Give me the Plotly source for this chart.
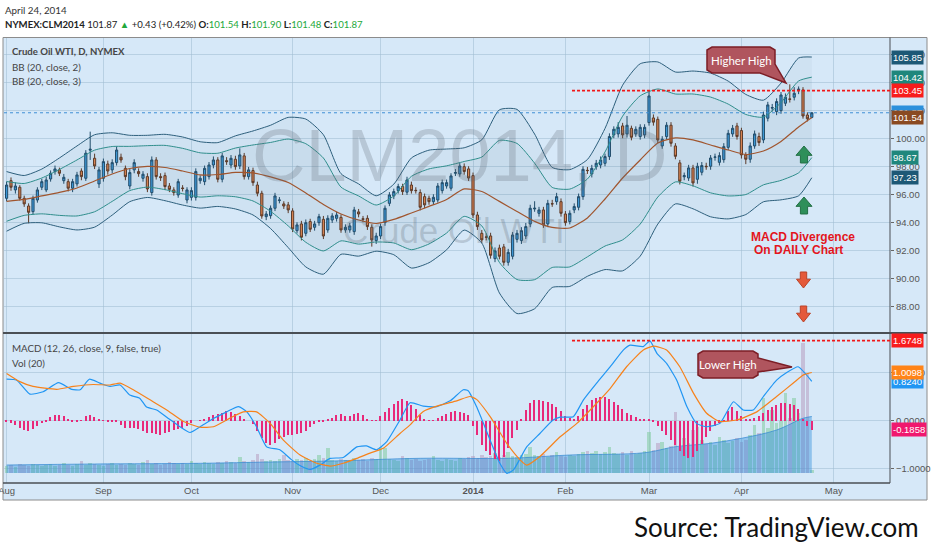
import numpy as np
import pandas as pd
import plotly.graph_objects as go

# ---- values (daily bars, CLM2014) ----
holidays = ["2013-09-02", "2013-11-28", "2013-12-25", "2014-01-01",
            "2014-01-20", "2014-02-17", "2014-04-18"]
month_names = ["Aug", "Sep", "Oct", "Nov", "Dec", "<b>2014</b>", "Feb", "Mar", "Apr", "May"]

opens = [
    95.76, 97.02, 96.36, 96.55, 95.76, 95.21, 94.81, 95.64, 96.55, 96.36,
    97.14, 97.67, 97.79, 97.02, 96.95, 96.48, 96.79, 97.71, 97.19, 99.20,
    98.62, 96.79, 97.19, 98.21, 97.79, 98.31, 98.69, 97.90, 96.64, 97.79,
    97.67, 97.19, 97.31, 96.17, 98.50, 97.31, 97.38, 96.64, 96.36, 96.00,
    96.50, 95.64, 95.83, 95.83, 97.02, 96.95, 97.31, 98.14, 98.50, 97.12,
    98.45, 98.14, 98.55, 98.07, 98.79, 97.31, 97.74, 96.71, 96.12, 94.45,
    94.52, 95.05, 95.60, 95.36, 95.29, 94.86, 93.45, 93.93, 93.26, 94.10,
    93.69, 94.02, 94.26, 93.50, 94.21, 94.33, 94.40, 93.50, 93.50, 93.38,
    94.79, 94.30, 94.33, 93.69, 92.74, 93.07, 94.02, 95.40, 95.93, 96.31,
    96.60, 96.20, 96.71, 96.33, 96.17, 95.88, 95.76, 95.52, 95.64, 96.31,
    96.64, 96.48, 97.55, 97.50, 98.02, 97.86, 97.38, 94.57, 93.26, 93.00,
    93.07, 91.45, 92.21, 92.29, 91.19, 91.62, 92.83, 92.74, 93.07, 93.93,
    95.00, 94.69, 94.93, 93.93, 95.38, 95.52, 95.52, 94.64, 94.10, 94.93,
    95.12, 95.88, 97.76, 97.50, 98.02, 98.14, 98.26, 98.74, 100.29, 100.36,
    100.93, 100.36, 100.76, 100.36, 100.17, 100.29, 101.17, 101.50, 101.40, 99.50,
    100.17, 100.98, 99.50, 98.29, 97.30, 97.21, 97.93, 97.12, 97.62, 98.05,
    98.05, 98.69, 98.33, 98.52, 99.40, 100.36, 100.93, 100.60, 98.86, 98.55,
    99.50, 100.17, 99.93, 101.48, 102.20, 101.95, 102.02, 102.55, 102.86, 102.98,
    103.50, 103.50, 101.71, 101.54,
]
highs = [
    96.95, 97.25, 96.90, 96.70, 95.95, 95.40, 95.95, 96.55, 97.15, 97.30,
    97.75, 98.10, 97.95, 97.50, 97.15, 97.15, 97.65, 97.90, 99.20, 100.52,
    98.95, 98.00, 98.60, 98.45, 98.55, 99.45, 98.95, 98.10, 97.85, 98.55,
    97.90, 97.70, 97.55, 98.75, 98.70, 97.55, 97.60, 96.85, 96.55, 97.15,
    96.70, 96.55, 96.55, 97.90, 97.40, 98.10, 98.35, 98.75, 98.70, 99.00,
    98.70, 98.85, 98.80, 99.33, 99.00, 98.00, 97.95, 96.95, 96.30, 94.85,
    95.25, 96.15, 95.85, 95.55, 95.50, 95.05, 94.05, 94.15, 94.25, 94.30,
    94.15, 94.65, 94.50, 94.55, 94.70, 94.80, 94.60, 93.90, 94.00, 95.15,
    95.00, 94.50, 94.55, 93.90, 93.30, 93.95, 95.25, 96.20, 96.45, 96.80,
    96.80, 97.30, 96.95, 96.55, 96.40, 96.10, 95.95, 96.05, 96.85, 97.10,
    97.10, 97.55, 97.85, 98.30, 98.25, 98.05, 97.60, 94.80, 93.50, 93.25,
    93.30, 92.25, 92.45, 92.50, 92.15, 93.35, 93.50, 93.70, 94.00, 95.30,
    95.55, 95.15, 95.15, 95.65, 95.65, 96.15, 95.75, 94.85, 94.90, 95.40,
    96.10, 98.05, 98.00, 98.15, 98.50, 98.75, 98.95, 100.40, 100.90, 101.20,
    101.15, 101.64, 100.95, 100.90, 101.05, 101.05, 103.45, 101.75, 101.60, 100.20,
    101.20, 101.20, 99.70, 98.50, 97.60, 98.15, 98.15, 98.30, 98.35, 98.30,
    98.85, 98.95, 99.05, 99.70, 100.65, 101.00, 101.15, 100.80, 99.05, 99.75,
    100.60, 100.45, 101.95, 102.65, 102.50, 102.90, 103.35, 103.25, 103.90, 103.70,
    103.75, 103.70, 101.90, 101.90,
]
lows = [
    95.55, 96.30, 96.10, 95.60, 95.15, 93.98, 94.60, 95.45, 96.35, 96.20,
    96.95, 97.45, 97.35, 96.80, 96.25, 96.20, 96.60, 97.05, 97.00, 98.50,
    97.85, 96.50, 96.95, 97.45, 97.55, 98.10, 98.30, 97.05, 96.40, 97.55,
    97.30, 96.95, 96.20, 95.95, 97.10, 97.00, 96.35, 96.20, 95.95, 95.80,
    96.25, 95.40, 95.60, 95.60, 96.80, 96.70, 97.10, 97.90, 96.90, 96.90,
    98.15, 97.90, 97.80, 97.85, 97.10, 97.10, 96.65, 95.90, 94.30, 94.20,
    94.30, 94.85, 95.40, 95.00, 94.70, 93.35, 93.25, 92.75, 93.05, 93.35,
    93.45, 93.80, 92.85, 93.30, 94.00, 94.10, 93.30, 93.30, 93.30, 93.15,
    94.40, 94.05, 93.50, 92.31, 92.50, 92.85, 93.80, 95.20, 95.70, 96.10,
    96.00, 96.00, 96.10, 96.10, 94.90, 95.05, 95.30, 95.30, 95.45, 96.10,
    96.45, 96.30, 97.35, 97.30, 97.45, 97.00, 94.35, 93.50, 92.55, 92.75,
    91.45, 91.20, 91.40, 90.95, 90.95, 91.40, 92.60, 92.50, 92.85, 93.70,
    94.80, 94.45, 93.65, 93.70, 95.15, 95.30, 94.45, 93.80, 93.90, 94.70,
    94.90, 95.65, 97.50, 97.25, 97.80, 97.90, 98.05, 98.50, 100.05, 100.10,
    100.05, 100.10, 99.90, 100.15, 99.95, 100.05, 100.95, 100.95, 99.70, 99.30,
    99.95, 99.45, 98.55, 96.75, 97.05, 97.00, 96.60, 96.80, 97.40, 97.80,
    97.80, 98.45, 98.10, 98.30, 99.20, 100.15, 99.95, 98.60, 98.20, 98.30,
    99.30, 99.50, 99.70, 101.25, 101.95, 101.70, 101.80, 102.35, 102.60, 102.75,
    103.20, 101.45, 101.25, 101.48,
]
closes = [
    96.71, 96.55, 96.64, 95.76, 95.36, 94.76, 95.76, 96.36, 96.95, 97.07,
    97.55, 97.86, 97.55, 97.26, 96.48, 96.95, 97.43, 97.31, 98.98, 99.26,
    98.07, 97.79, 98.38, 97.71, 98.31, 99.21, 98.50, 97.31, 97.60, 98.31,
    97.52, 97.48, 96.43, 98.50, 97.31, 97.24, 96.60, 96.40, 96.17, 96.95,
    96.46, 96.36, 96.31, 97.67, 97.19, 97.90, 98.14, 98.50, 97.12, 98.79,
    98.38, 98.62, 98.02, 98.86, 97.31, 97.79, 96.88, 96.12, 94.50, 94.64,
    95.05, 95.93, 95.64, 95.21, 94.93, 93.57, 93.86, 92.98, 94.02, 93.55,
    93.93, 94.45, 93.07, 94.33, 94.50, 94.57, 93.50, 93.69, 93.79, 94.93,
    94.64, 94.26, 93.74, 92.79, 93.07, 93.74, 95.05, 96.00, 96.24, 96.60,
    96.24, 97.07, 96.31, 96.31, 95.12, 95.29, 95.52, 95.83, 96.64, 96.88,
    96.88, 97.36, 97.60, 98.07, 97.67, 97.21, 94.57, 93.74, 92.79, 92.98,
    91.69, 92.00, 91.62, 91.19, 91.90, 93.14, 93.26, 93.45, 93.74, 95.05,
    95.05, 94.93, 93.86, 95.40, 95.36, 95.88, 94.69, 94.02, 94.69, 95.17,
    95.88, 97.83, 97.74, 97.90, 98.26, 98.50, 98.74, 100.17, 100.69, 100.83,
    100.29, 100.98, 100.12, 100.69, 100.83, 100.83, 103.07, 101.20, 99.93, 99.98,
    100.98, 99.69, 98.76, 96.98, 97.38, 97.93, 96.86, 98.05, 98.10, 98.02,
    98.64, 98.71, 98.81, 99.45, 100.40, 100.76, 100.17, 98.86, 98.55, 99.50,
    100.36, 99.74, 101.71, 102.43, 102.24, 102.67, 103.14, 102.98, 102.83, 103.26,
    103.55, 101.64, 101.44, 101.87,
]
volumes = [
    7, 8, 6, 9, 8, 7, 9, 8, 7, 8,
    9, 7, 8, 10, 8, 7, 9, 12, 8, 10,
    9, 8, 7, 9, 10, 8, 9, 8, 10, 9,
    8, 11, 13, 9, 10, 8, 9, 11, 10, 9,
    10, 9, 12, 10, 9, 11, 10, 9, 11, 10,
    12, 11, 10, 16, 12, 11, 13, 19, 14, 12,
    13, 12, 14, 18, 13, 12, 14, 13, 15, 12,
    14, 18, 15, 25, 13, 12, 14, 13, 12, 15,
    13, 14, 12, 15, 14, 26, 25, 14, 13, 12,
    17, 15, 13, 14, 12, 13, 14, 17, 13, 12,
    14, 13, 12, 15, 14, 16, 17, 15, 18, 16,
    17, 20, 16, 18, 21, 17, 16, 18, 19, 26,
    18, 17, 19, 16, 18, 21, 17, 16, 18, 17,
    19, 21, 22, 20, 22, 19, 21, 26, 20, 19,
    21, 18, 22, 19, 20, 22, 41, 23, 30, 31,
    25, 27, 61, 26, 35, 30, 43, 46, 33, 29,
    31, 28, 36, 33, 30, 32, 35, 31, 33, 38,
    48, 40, 75, 45, 63, 50, 52, 80, 55, 75,
    60, 130, 100, 3,
]
vol_ma_bars = [0, 20, 44, 60, 74, 94, 114, 128, 145, 152, 160, 167, 175, 181, 183]
vol_ma = [8, 9, 9.7, 11, 12, 14.7, 14.7, 18, 20.3, 26.3, 29.7, 34.7, 43, 54.7, 56.5]

# Bollinger basis and standard deviation, read every 4 bars
bb_bars = [0, 4, 8, 12, 16, 20, 24, 28, 32, 36, 40, 44, 48, 52, 56, 60, 64, 68, 72, 76,
           80, 84, 88, 92, 96, 100, 104, 108, 112, 116, 120, 124, 128, 132, 136, 140,
           144, 148, 152, 156, 160, 164, 168, 172, 176, 180, 183]
bb_basis = [95.54, 95.68, 95.93, 96.18, 96.50, 97.00, 97.50, 97.89, 98.04, 97.96,
            97.71, 97.43, 97.46, 97.61, 97.57, 97.29, 96.89, 96.14, 95.32, 94.64,
            94.21, 93.96, 94.25, 94.71, 95.18, 95.68, 96.43, 96.25, 95.54, 94.82,
            94.11, 93.68, 93.64, 94.36, 95.71, 97.21, 98.50, 99.71, 100.07, 99.93,
            99.57, 99.21, 98.89, 99.14, 99.82, 100.86, 101.54]
bb_sd = [0.71, 0.57, 0.64, 0.82, 1.00, 1.10, 0.98, 0.79, 0.74, 0.79,
         0.81, 0.79, 0.76, 0.87, 1.00, 1.23, 1.55, 1.76, 1.66, 0.96,
         0.86, 0.66, 0.84, 1.31, 1.34, 1.20, 0.98, 1.23, 2.18, 2.43,
         2.08, 1.43, 1.39, 1.39, 1.68, 2.21, 2.29, 1.93, 1.57, 1.64,
         1.71, 1.64, 1.43, 1.21, 1.39, 1.64, 1.437]

macd_bars = [0, 2.3, 5.3, 8.3, 11.8, 14.8, 16.7, 18.8, 21.2, 23.5, 25.8, 28, 30.3, 31.8,
             34.1, 36.4, 39.4, 41.7, 44, 47, 50, 52.7, 54.6, 56.8, 59.1, 62.1, 64.8,
             67.1, 69, 71.2, 73.5, 76.5, 79.6, 81.8, 84.1, 86.4, 89.4, 91.7, 94.7,
             97.8, 100.8, 103.8, 104.9, 106.8, 109.9, 112.1, 113.7, 115.2, 118.2,
             121.2, 124.2, 125.8, 128.8, 131.1, 134.1, 137.2, 140.2, 141.7, 144.7,
             146.2, 147.8, 150, 152.3, 154.6, 156.8, 159.1, 162.1, 165.2, 167.4,
             169.7, 172, 175, 177.3, 179.9, 181.5, 183]
macd_line = [0.87, 0.85, 0.56, 0.61, 0.80, 0.66, 0.65, 0.87, 0.79, 0.72, 0.75, 0.54, 0.47,
             0.29, 0.23, 0.08, -0.12, -0.24, -0.12, 0.05, 0.19, 0.30, 0.19, -0.12, -0.54,
             -0.60, -0.81, -0.95, -1.01, -0.92, -0.78, -0.76, -0.54, -0.52, -0.60, -0.43,
             0.02, 0.38, 0.31, 0.30, 0.42, 0.65, 0.63, 0.30, -0.40, -0.88, -1.09, -1.02,
             -0.54, -0.26, 0.02, 0.08, 0.09, 0.44, 0.79, 1.13, 1.48, 1.58, 1.55, 1.67,
             1.41, 1.20, 0.85, 0.30, -0.05, -0.12, -0.05, 0.40, 0.23, 0.23, 0.51, 0.85,
             1.01, 1.13, 0.99, 0.824]
sig_bars = [0, 3, 6, 11.4, 15.2, 19.7, 23.5, 25.8, 28.8, 32.6, 36.4, 40.2, 44, 47, 50.8,
            53.8, 56.8, 59.9, 62.9, 66.7, 70.5, 73.5, 76.5, 79.6, 82.6, 85.6, 89.4, 91.7,
            94.7, 98.5, 102.3, 105.3, 106.8, 109.9, 113.7, 116.7, 118.2, 121.2, 125.8,
            129.6, 134.1, 137.2, 140.9, 144.7, 147, 150, 153, 156.1, 159.1, 162.1, 165.9,
            170.5, 175, 178.8, 181.1, 183]
sig_line = [0.99, 0.82, 0.72, 0.66, 0.72, 0.76, 0.75, 0.79, 0.65, 0.44, 0.23, -0.01, -0.13,
            -0.12, 0.06, 0.19, 0.19, -0.05, -0.40, -0.71, -0.88, -0.94, -0.88, -0.78, -0.67,
            -0.57, -0.26, -0.08, 0.20, 0.33, 0.42, 0.51, 0.45, 0.09, -0.47, -0.81, -0.92,
            -0.74, -0.33, -0.05, 0.37, 0.68, 1.13, 1.48, 1.56, 1.48, 1.13, 0.58, 0.16,
            -0.01, 0.02, 0.19, 0.51, 0.79, 0.96, 1.0098]
macd_hist = [
    -0.03, -0.04, -0.08, -0.14, -0.19, -0.20, -0.16, -0.10, -0.05, -0.02,
    0.08, 0.12, 0.13, 0.10, 0.03, -0.02, -0.03, 0.02, 0.10, 0.12,
    0.08, 0.03, 0.01, -0.01, -0.02, -0.02, -0.08, -0.14, -0.15, -0.15,
    -0.16, -0.20, -0.24, -0.26, -0.28, -0.29, -0.26, -0.22, -0.19, -0.16,
    -0.14, -0.10, -0.04, 0.00, 0.02, 0.04, 0.08, 0.12, 0.15, 0.17,
    0.20, 0.18, 0.15, 0.10, 0.04, 0.00, -0.06, -0.20, -0.36, -0.46,
    -0.50, -0.45, -0.38, -0.33, -0.30, -0.30, -0.28, -0.26, -0.20, -0.12,
    -0.06, -0.03, -0.02, 0.03, 0.07, 0.12, 0.14, 0.10, 0.11, 0.15,
    0.16, 0.12, 0.04, 0.01, 0.02, 0.10, 0.18, 0.27, 0.35, 0.42,
    0.45, 0.42, 0.34, 0.24, 0.12, 0.04, 0.01, 0.02, 0.06, 0.10,
    0.14, 0.18, 0.20, 0.19, 0.16, 0.12, -0.10, -0.30, -0.50, -0.62,
    -0.70, -0.80, -0.84, -0.76, -0.56, -0.36, -0.18, 0.05, 0.22, 0.38,
    0.43, 0.43, 0.42, 0.40, 0.36, 0.30, 0.20, 0.10, 0.06, 0.05,
    0.10, 0.24, 0.34, 0.44, 0.48, 0.50, 0.50, 0.46, 0.40, 0.33,
    0.25, 0.17, 0.12, 0.08, 0.05, 0.03, 0.03, -0.02, -0.10, -0.20,
    -0.30, -0.40, -0.50, -0.62, -0.72, -0.78, -0.75, -0.62, -0.48, -0.33,
    -0.20, -0.10, -0.04, 0.02, 0.20, 0.30, 0.20, 0.10, 0.05, 0.04,
    0.06, 0.10, 0.16, 0.22, 0.30, 0.34, 0.38, 0.38, 0.36, 0.33,
    0.24, 0.05, -0.10, -0.1858,
]

# right-axis value tags and drawn levels
price_tags = [(101.87, "#2b90dc"), (105.85, "#1d5876"), (104.42, "#1f877c"),
              (103.45, "#f81c1c"), (101.54, "#8a4a22"), (98.67, "#1f877c"), (97.23, "#1d5876")]
macd_tags = [(1.6748, "#f81c1c"), (0.8240, "#2196f3"), (1.0098, "#ff8418"), (-0.1858, "#f0186e")]
last_price = 101.87
high_level = 103.45
macd_level = 1.6748
level_start = 128.5

assert len(opens) == len(highs) == len(lows) == len(closes) == len(volumes) == len(macd_hist)

n = len(closes)
bars = np.arange(n)
days = pd.bdate_range("2013-08-01", "2014-05-30")
days = days[~days.isin(pd.to_datetime(holidays))]
firsts = pd.Series(np.arange(len(days)), index=days).groupby([days.year, days.month]).first()
tick_pos = list(firsts.values[:len(month_names)])

basis = np.array(bb_basis)
sd = np.array(bb_sd)

BG = "#d6e8f8"
GRID = "rgba(160,188,210,0.55)"
FONT = "Lato"

fig = go.Figure()

# bollinger bands (3 sd outer, 2 sd inner)
band_line = dict(shape="spline", smoothing=0.6, width=1)
fig.add_trace(go.Scatter(x=bb_bars, y=basis + 3 * sd, mode="lines",
                         line=dict(color="#2d5f7c", **band_line)))
fig.add_trace(go.Scatter(x=bb_bars, y=basis - 3 * sd, mode="lines", fill="tonexty",
                         fillcolor="rgba(70,110,140,0.05)", line=dict(color="#2d5f7c", **band_line)))
fig.add_trace(go.Scatter(x=bb_bars, y=basis + 2 * sd, mode="lines",
                         line=dict(color="#2f8e8c", **band_line)))
fig.add_trace(go.Scatter(x=bb_bars, y=basis - 2 * sd, mode="lines", fill="tonexty",
                         fillcolor="rgba(70,110,140,0.05)", line=dict(color="#2f8e8c", **band_line)))
fig.add_trace(go.Scatter(x=bb_bars, y=basis, mode="lines",
                         line=dict(color="#a0552e", shape="spline", smoothing=0.6, width=1.2)))

fig.add_trace(go.Candlestick(
    x=bars, open=opens, high=highs, low=lows, close=closes, whiskerwidth=0,
    increasing=dict(fillcolor="#3d9ce0", line=dict(color="#1f4a68", width=1)),
    decreasing=dict(fillcolor="#e8864e", line=dict(color="#5e351f", width=1)),
    xaxis="x", yaxis="y", hoverinfo="skip"))

# volume pane (underneath MACD)
fig.add_trace(go.Scatter(x=vol_ma_bars, y=vol_ma, mode="lines", fill="tozeroy",
                         fillcolor="rgba(45,140,220,0.42)",
                         line=dict(color="rgba(50,135,210,0.7)", width=1, shape="spline"),
                         xaxis="x2", yaxis="y2"))
vol_colors = ["rgba(120,200,150,0.5)" if c >= o else "rgba(180,150,185,0.5)"
              for o, c in zip(opens, closes)]
fig.add_trace(go.Bar(x=bars, y=volumes, marker=dict(color=vol_colors, line=dict(width=0)),
                     width=0.85, xaxis="x2", yaxis="y2"))

# MACD
fig.add_trace(go.Bar(x=bars, y=macd_hist, marker=dict(color="#e8297a", line=dict(width=0)),
                     width=0.28, xaxis="x2", yaxis="y3"))
fig.add_trace(go.Scatter(x=macd_bars, y=macd_line, mode="lines",
                         line=dict(color="#2196f3", width=1.2, shape="spline", smoothing=0.5),
                         xaxis="x2", yaxis="y3"))
fig.add_trace(go.Scatter(x=sig_bars, y=sig_line, mode="lines",
                         line=dict(color="#f7821b", width=1.2, shape="spline", smoothing=0.5),
                         xaxis="x2", yaxis="y3"))


def X(px):
    return (px - 4) / 886


def Y(py):
    return (500 - py) / 462


def path(points):
    return "M " + " L ".join(f"{X(a):.5f},{Y(b):.5f}" for a, b in points) + " Z"


def block_arrow(cx, top, bottom, up, hw, sw):
    if up:
        mid = top + (bottom - top) * 0.55
        pts = [(cx, top), (cx + hw, mid), (cx + sw, mid), (cx + sw, bottom),
               (cx - sw, bottom), (cx - sw, mid), (cx - hw, mid)]
    else:
        mid = top + (bottom - top) * 0.45
        pts = [(cx, bottom), (cx + hw, mid), (cx + sw, mid), (cx + sw, top),
               (cx - sw, top), (cx - sw, mid), (cx - hw, mid)]
    return path(pts)


shapes = [
    dict(type="rect", xref="paper", yref="paper", x0=X(3), x1=X(927), y0=Y(500), y1=Y(37.5),
         fillcolor=BG, line=dict(color="#8c8c8c", width=1), layer="below"),
    dict(type="line", xref="paper", yref="paper", x0=X(3), x1=X(927), y0=Y(333), y1=Y(333),
         line=dict(color="#4a4f55", width=2)),
    dict(type="line", xref="paper", yref="paper", x0=X(3), x1=X(890), y0=Y(483), y1=Y(483),
         line=dict(color="#4a4f55", width=1.5)),
    dict(type="line", xref="paper", yref="paper", x0=X(890), x1=X(890), y0=Y(483), y1=Y(37.5),
         line=dict(color="#4a4f55", width=1)),
    dict(type="line", xref="paper", yref="y", x0=0, x1=1, y0=last_price, y1=last_price,
         line=dict(color="#3f8fd6", width=1, dash="dot")),
    dict(type="line", xref="x", yref="y", x0=level_start, x1=200.77, y0=high_level, y1=high_level,
         line=dict(color="#f01818", width=1.6, dash="3px,2px")),
    dict(type="line", xref="x2", yref="y3", x0=level_start, x1=200.77, y0=macd_level, y1=macd_level,
         line=dict(color="#f01818", width=1.6, dash="3px,2px")),
    # callouts
    dict(type="path", xref="paper", yref="paper",
         path=path([(712, 47), (770, 47), (775, 50), (775, 64), (786, 83), (760, 73),
                    (712, 73), (707, 70), (707, 50)]),
         fillcolor="#b0555e", line=dict(color="#7c1e26", width=1.5)),
    dict(type="path", xref="paper", yref="paper",
         path=path([(703, 351), (753, 351), (758, 354), (758, 358), (792, 367), (758, 372),
                    (758, 375), (753, 378), (703, 378), (698, 375), (698, 354)]),
         fillcolor="#b0555e", line=dict(color="#7c1e26", width=1.5)),
    # arrows
    dict(type="path", xref="paper", yref="paper", path=block_arrow(804, 146, 163, True, 8, 3.6),
         fillcolor="#2f8f5a", line=dict(color="#236f45", width=1)),
    dict(type="path", xref="paper", yref="paper", path=block_arrow(804, 197, 214, True, 8, 3.6),
         fillcolor="#2f8f5a", line=dict(color="#236f45", width=1)),
    dict(type="path", xref="paper", yref="paper", path=block_arrow(803.5, 272, 288, False, 7, 3.2),
         fillcolor="#e4593a", line=dict(color="#bb4328", width=1)),
    dict(type="path", xref="paper", yref="paper", path=block_arrow(803.5, 306, 322, False, 7, 3.2),
         fillcolor="#e4593a", line=dict(color="#bb4328", width=1)),
]

ann = []


def text(px, py, s, size=11, color="#3c3c3c", anchor="left", family=FONT, **kw):
    ann.append(dict(xref="paper", yref="paper", x=X(px), y=Y(py), text=s, showarrow=False,
                    xanchor=anchor, yanchor="middle", borderpad=0,
                    font=dict(size=size, color=color, family=family), **kw))


green = "#22a83a"
text(4, 10, "April 24, 2014", size=9.8, color="#333")
text(4, 25, "<b>NYMEX:CLM2014</b> 101.87 <span style='color:%s'>▲</span> +0.43 (+0.42%%) "
            "<b>O:</b><span style='color:%s'>101.54</span> <b>H:</b><span style='color:%s'>101.90</span> "
            "<b>L:</b><span style='color:%s'>101.48</span> <b>C:</b><span style='color:%s'>101.87</span>"
     % (green, green, green, green, green), size=9.6, color="#222")

# watermark
text(459, 155, "CLM2014, D", size=74, color="rgba(90,100,112,0.25)", anchor="center",
     family="Liberation Sans")
text(454, 230, "Crude Oil WTI", size=35, color="rgba(90,100,112,0.25)", anchor="center",
     family="Liberation Sans")

# pane legends
text(11, 52, "<b>Crude Oil WTI, D, NYMEX</b>", size=9.6, color="#454545")
text(11, 67, "BB (20, close, 2)", size=9.8, color="#454545")
text(11, 81, "BB (20, close, 3)", size=9.8, color="#454545")
text(11, 348, "MACD (12, 26, close, 9, false, true)", size=9.8, color="#454545")
text(11, 363, "Vol (20)", size=9.8, color="#454545")

# callout texts
text(741, 60, "Higher High", size=11.5, color="white", anchor="center")
text(728, 364.5, "Lower High", size=11.5, color="white", anchor="center")
text(750, 237, "<b>MACD Divergence</b>", size=12, color="#e3151d", family="Liberation Sans")
text(753, 250, "<b>On DAILY Chart</b>", size=12, color="#e3151d", family="Liberation Sans")

# source
ann.append(dict(xref="paper", yref="paper", x=X(921), y=Y(527), xanchor="right", yanchor="middle",
                text="Source: TradingView.com", showarrow=False,
                font=dict(size=26, color="#111", family=FONT)))

for val, col in price_tags:
    ann.append(dict(xref="paper", yref="y", x=1, y=val, xanchor="left", yanchor="middle", xshift=1,
                    text=f"{val:.2f}", showarrow=False, bgcolor=col, borderpad=1,
                    font=dict(size=9.5, color="white", family="Liberation Sans")))
for val, col in macd_tags:
    ann.append(dict(xref="paper", yref="y3", x=1, y=val, xanchor="left", yanchor="middle", xshift=1,
                    text=f"{val:.4f}", showarrow=False, bgcolor=col, borderpad=1,
                    font=dict(size=9.5, color="white", family="Liberation Sans")))

tick_font = dict(size=9.5, color="#555", family="Liberation Sans")
x_range = [-0.59, 200.77]

fig.update_layout(
    width=932, height=550,
    margin=dict(l=4, r=42, t=38, b=50, autoexpand=False),
    paper_bgcolor="white", plot_bgcolor="rgba(0,0,0,0)",
    showlegend=False, barmode="overlay", bargap=0,
    shapes=shapes, annotations=ann,
    xaxis=dict(domain=[0, 1], range=x_range, anchor="y", tickvals=tick_pos, showticklabels=False,
               showgrid=True, gridcolor=GRID, zeroline=False, rangeslider=dict(visible=False),
               ticks="", automargin=False),
    xaxis2=dict(domain=[0, 1], range=x_range, anchor="y2", matches="x", tickvals=tick_pos,
                ticktext=month_names, tickfont=tick_font, showgrid=True, gridcolor=GRID,
                zeroline=False, ticks="", automargin=False, ticklabeloverflow="allow"),
    yaxis=dict(domain=[Y(333), 1], range=[86.14, 107.21], side="right", anchor="x",
               tickvals=list(range(88, 107, 2)), tickformat=".2f", tickfont=tick_font,
               ticks="outside", ticklen=3, tickcolor="#666", gridcolor=GRID, zeroline=False,
               automargin=False),
    yaxis2=dict(domain=[Y(483), Y(333)], range=[-10, 140], anchor="x2", visible=False),
    yaxis3=dict(overlaying="y2", anchor="x2", side="right", range=[-1.292, 1.833],
                tickvals=[-1, 0, 1], tickformat=".4f", tickfont=tick_font, ticks="outside",
                ticklen=3, tickcolor="#666", gridcolor=GRID, zeroline=False, showgrid=True,
                automargin=False),
)

# the page body has a default 8px margin; drop it so the figure fills the window
fig.write_html("out.html", config={"displayModeBar": False},
               post_script="document.body.style.margin = '0';")
